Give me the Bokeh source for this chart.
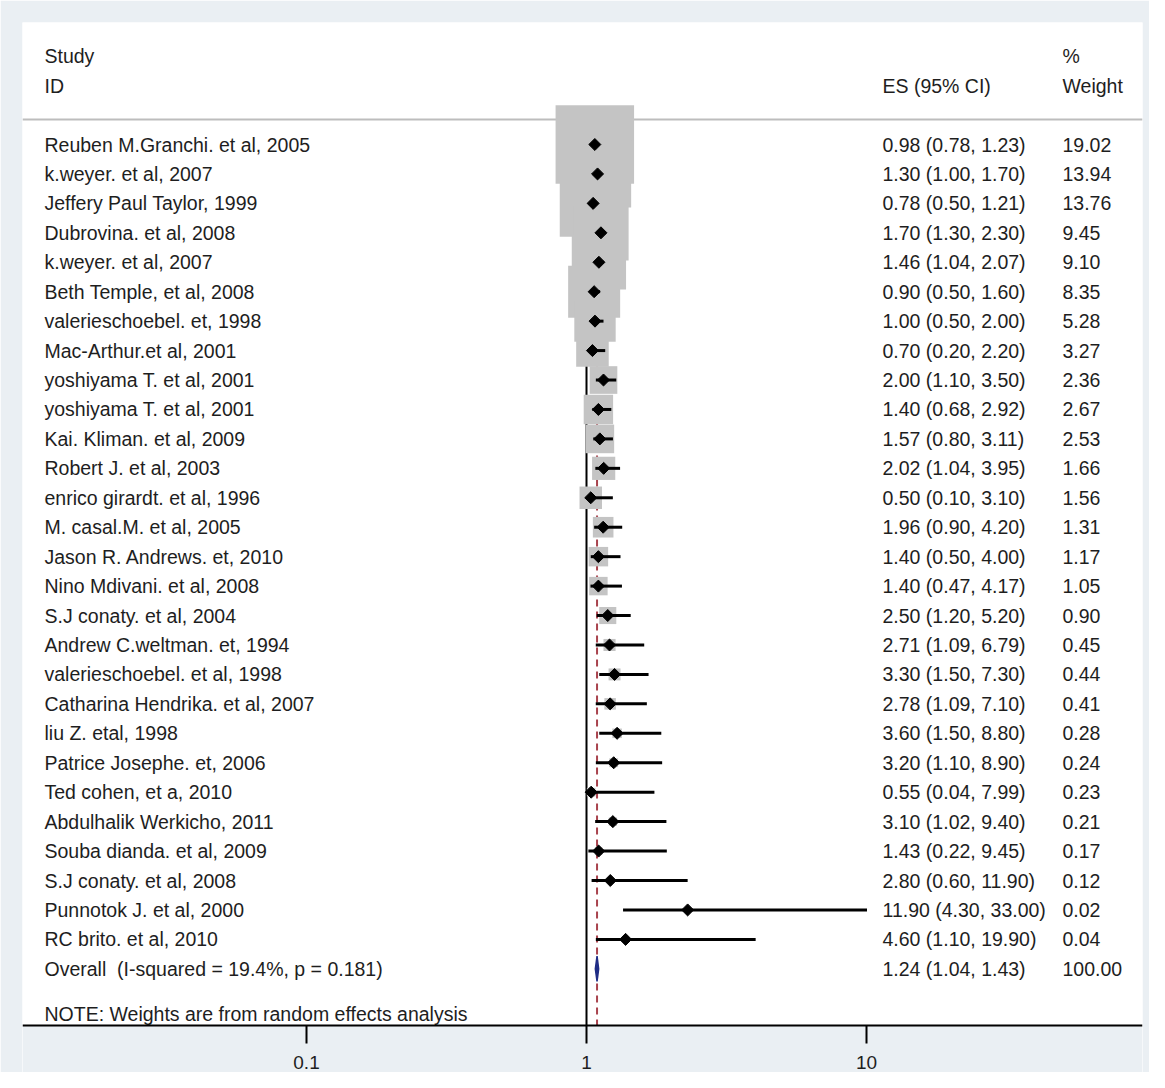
import math
from bokeh.plotting import figure
from bokeh.models import Range1d, FixedTicker, ColumnDataSource
from bokeh.core.properties import value
from bokeh.embed import file_html
from bokeh.resources import INLINE

# ---------------- data ----------------
studies = [
    "Reuben M.Granchi. et al, 2005",
    "k.weyer. et al, 2007",
    "Jeffery Paul Taylor, 1999",
    "Dubrovina. et al, 2008",
    "k.weyer. et al, 2007",
    "Beth Temple, et al, 2008",
    "valerieschoebel. et, 1998",
    "Mac-Arthur.et al, 2001",
    "yoshiyama T. et al, 2001",
    "yoshiyama T. et al, 2001",
    "Kai. Kliman. et al, 2009",
    "Robert J. et al, 2003",
    "enrico girardt. et al, 1996",
    "M. casal.M. et al, 2005",
    "Jason R. Andrews. et, 2010",
    "Nino Mdivani. et al, 2008",
    "S.J conaty. et al, 2004",
    "Andrew C.weltman. et, 1994",
    "valerieschoebel. et al, 1998",
    "Catharina Hendrika. et al, 2007",
    "liu Z. etal, 1998",
    "Patrice Josephe. et, 2006",
    "Ted cohen, et a, 2010",
    "Abdulhalik Werkicho, 2011",
    "Souba dianda. et al, 2009",
    "S.J conaty. et al, 2008",
    "Punnotok J. et al, 2000",
    "RC brito. et al, 2010",
]
es = [0.98, 1.30, 0.78, 1.70, 1.46, 0.90, 1.00, 0.70, 2.00, 1.40, 1.57, 2.02, 0.50, 1.96,
      1.40, 1.40, 2.50, 2.71, 3.30, 2.78, 3.60, 3.20, 0.55, 3.10, 1.43, 2.80, 11.90, 4.60]
ci_low = [0.78, 1.00, 0.50, 1.30, 1.04, 0.50, 0.50, 0.20, 1.10, 0.68, 0.80, 1.04, 0.10, 0.90,
          0.50, 0.47, 1.20, 1.09, 1.50, 1.09, 1.50, 1.10, 0.04, 1.02, 0.22, 0.60, 4.30, 1.10]
ci_high = [1.23, 1.70, 1.21, 2.30, 2.07, 1.60, 2.00, 2.20, 3.50, 2.92, 3.11, 3.95, 3.10, 4.20,
           4.00, 4.17, 5.20, 6.79, 7.30, 7.10, 8.80, 8.90, 7.99, 9.40, 9.45, 11.90, 33.00, 19.90]
weights = [19.02, 13.94, 13.76, 9.45, 9.10, 8.35, 5.28, 3.27, 2.36, 2.67, 2.53, 1.66, 1.56, 1.31,
           1.17, 1.05, 0.90, 0.45, 0.44, 0.41, 0.28, 0.24, 0.23, 0.21, 0.17, 0.12, 0.02, 0.04]

overall_label = "Overall\u00a0 (I-squared = 19.4%, p = 0.181)"
overall_es = 1.24
overall_low = 1.04
overall_high = 1.43
overall_weight = 100.00

note_text = "NOTE: Weights are from random effects analysis"
header_study = ["Study", "ID"]
header_es = "ES (95% CI)"
header_wt = ["%", "Weight"]

tick_values = [0.1, 1, 10]
tick_labels = ["0.1", "1", "10"]

# ---------------- layout helpers ----------------
PX_ORIGIN = 594.0     # image x of the "1" tick
PX_PER_UNIT = 8.5     # pixels per effect-size unit in the reference
PX_PER_DECADE = 280.0
ROW_PX = 29.44
ROW0_PX = 152.0

def px2x(px):
    return (px - PX_ORIGIN) / PX_PER_UNIT

def py2y(py):
    return -(py - ROW0_PX) / ROW_PX

def tick_pos(t):
    return (PX_PER_DECADE / PX_PER_UNIT) * math.log10(t)

X_LEFT, X_RIGHT = px2x(30), px2x(1150)
X_STUDY = px2x(52)
X_ES = px2x(890)
X_WT = px2x(1070)

n = len(studies)
rows = [-i for i in range(n)]
y_overall = -n
y_note = -(n + 1.52)
Y_TOP, Y_BOTTOM = py2y(30), py2y(1080)
Y_AXIS = py2y(1033)
Y_HEADLINE = py2y(127)

FONT = value("Liberation Sans")
FSIZE = value("19.5px")
TXT = "#1e1e1e"
BOX = "#c4c4c4"
BG = "#eaeff3"

p = figure(width=1149, height=1072, x_range=Range1d(X_LEFT, X_RIGHT),
           y_range=Range1d(Y_BOTTOM, Y_TOP), y_axis_location=None,
           output_backend="svg", toolbar_location=None,
           min_border_left=22, min_border_right=7, min_border_top=22, min_border_bottom=0)
p.background_fill_color = "white"
p.border_fill_color = BG
p.outline_line_color = None
p.xgrid.visible = False
p.ygrid.visible = False

# graph-region band below the axis
p.quad(left=[X_LEFT], right=[X_RIGHT], top=[Y_AXIS], bottom=[Y_BOTTOM],
       fill_color=BG, line_color=None)

# header separator line
p.segment(x0=[X_LEFT], x1=[X_RIGHT], y0=[Y_HEADLINE], y1=[Y_HEADLINE],
          line_color="#bdbdbd", line_width=2)
# null line and overall dashed line
p.segment(x0=[tick_pos(1)], x1=[tick_pos(1)], y0=[0.6], y1=[Y_AXIS],
          line_color="black", line_width=2)
p.segment(x0=[overall_es], x1=[overall_es], y0=[Y_HEADLINE], y1=[Y_AXIS],
          line_color="#a8434d", line_width=2, line_dash="7 5")

src = ColumnDataSource(dict(
    y=rows, es=es, lo=ci_low, hi=ci_high,
    side=[18.0 * math.sqrt(w) for w in weights],
    study=studies,
    es_txt=[f"{e:.2f} ({l:.2f}, {h:.2f})" for e, l, h in zip(es, ci_low, ci_high)],
    wt_txt=[f"{w:.2f}" for w in weights],
))

# weight boxes
p.rect(x="es", y="y", width="side", height="side", width_units="screen",
       height_units="screen", source=src, fill_color=BOX, line_color=None)
# confidence intervals
p.segment(x0="lo", x1="hi", y0="y", y1="y", source=src, line_color="black", line_width=3)
# point estimates
p.scatter(x="es", y="y", source=src, marker="square", angle=math.pi / 4, size=8.5,
          fill_color="black", line_color="black")

# overall diamond
h = 0.43
p.patch(x=[overall_low, overall_es, overall_high, overall_es],
        y=[y_overall, y_overall + h, y_overall, y_overall - h],
        fill_color="#1f2d86", line_color="#1f2d86", line_width=1.5)

# text columns
tkw = dict(text_font=FONT, text_font_size=FSIZE, text_color=TXT,
           text_baseline="middle", text_align="left")
p.text(x="X", y="y", text="study", source=ColumnDataSource(dict(
    X=[X_STUDY] * n, y=rows, study=studies)), **tkw)
p.text(x="X", y="y", text="t", source=ColumnDataSource(dict(
    X=[X_ES] * n, y=rows, t=src.data["es_txt"])), **tkw)
p.text(x="X", y="y", text="t", source=ColumnDataSource(dict(
    X=[X_WT] * n, y=rows, t=src.data["wt_txt"])), **tkw)

# overall row + note + headers
p.text(x=[X_STUDY, X_ES, X_WT], y=[y_overall] * 3,
       text=[overall_label,
             f"{overall_es:.2f} ({overall_low:.2f}, {overall_high:.2f})",
             f"{overall_weight:.2f}"], **tkw)
p.text(x=[X_STUDY], y=[y_note], text=[note_text], **tkw)
p.text(x=[X_STUDY, X_STUDY, X_ES, X_WT, X_WT],
       y=[py2y(63), py2y(93), py2y(93), py2y(63), py2y(93)],
       text=[header_study[0], header_study[1], header_es, header_wt[0], header_wt[1]], **tkw)

# x axis, pinned at the bottom of the plot region
ax = p.xaxis[0]
ax.fixed_location = Y_AXIS
ax.ticker = FixedTicker(ticks=[tick_pos(t) for t in tick_values])
ax.major_label_overrides = {tick_pos(t): lab for t, lab in zip(tick_values, tick_labels)}
ax.axis_line_width = 2
ax.axis_line_color = "black"
ax.major_tick_line_width = 2
ax.major_tick_line_color = "black"
ax.major_tick_in = 0
ax.major_tick_out = 18
ax.minor_tick_line_color = None
ax.major_label_standoff = 12
ax.major_label_text_font = "Liberation Sans"
ax.major_label_text_font_size = "19px"
ax.major_label_text_color = TXT

open("out.html", "w").write(file_html(p, INLINE))
